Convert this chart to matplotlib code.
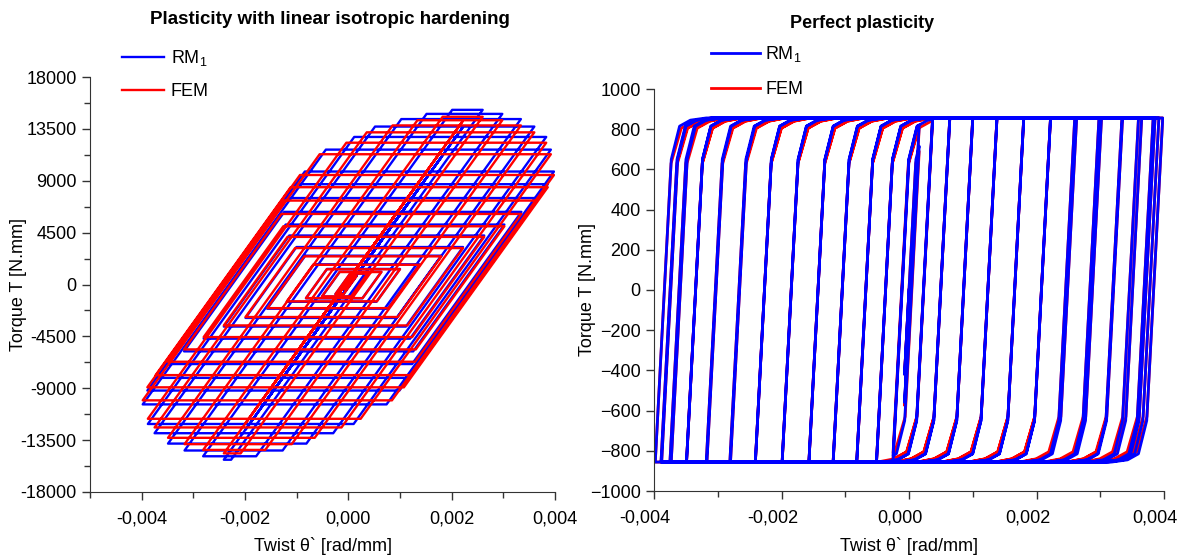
import numpy as np
import matplotlib
matplotlib.use('Agg')
import matplotlib.pyplot as plt
import matplotlib.transforms as mtransforms
from matplotlib.ticker import MultipleLocator, FuncFormatter

plt.rcParams['font.family'] = ['Liberation Sans', 'DejaVu Sans']
plt.rcParams['mathtext.fontset'] = 'custom'
plt.rcParams['mathtext.rm'] = 'Liberation Sans'
plt.rcParams['mathtext.it'] = 'Liberation Sans:italic'

# twist reversal points [1e-3 rad/mm], same cyclic history for both materials
twist_peaks = [-0.07, 0.16, -0.25, 0.37, -0.51, 0.64, -0.82, 1.00, -1.19, 1.38,
               -1.57, 1.80, -1.99, 2.22, -2.41, 2.63, -2.80, 3.02, -3.18, 3.35,
               -3.49, 3.65, -3.73, 3.86, -3.89, 3.98, -3.98,
               3.92, -3.88, 3.83, -3.75, 3.60, -3.49, 3.34, -3.17, 2.98,
               -2.81, 2.60, -2.41, 2.22, -1.99, 1.80, -1.57, 1.38, -1.19,
               1.00, -0.82, 0.64, -0.51, 0.37, -0.25, 0.16, -0.07, 0.00]

# torque at each reversal [N.mm], linear isotropic hardening
torque_hard_rm = [-436, 740, -840, 950, -1050, 1100, -1200, 1350, -1500, 1750,
                  -2100, 2500, -2900, 3250, -3650, 4250, -4700, 5200, -5800, 6300,
                  -6900, 7500, -8100, 8700, -9200, 9800, -10400,
                  11700, -12100, 12800, -12900, 13700, -13800, 14350, -14400, 14800,
                  -14900, 15150, -15200, 13660, -12580, 11050, -9970, 8430, -7600,
                  6060, -5290, 3810, -3360, 2130, -1740, 820, -610, -180]
torque_hard_fem = [-436, 730, -830, 940, -1030, 1080, -1180, 1320, -1460, 1710,
                   -2050, 2440, -2820, 3160, -3550, 4130, -4560, 5050, -5630, 6120,
                   -6700, 7280, -7860, 8440, -8920, 9500, -10050,
                   11300, -11650, 12300, -12400, 13200, -13300, 13800, -13850, 14250,
                   -14350, 14550, -14650, 14210, -12030, 11600, -9420, 8980, -7050,
                   6610, -4740, 4360, -2810, 2680, -1190, 1370, -60, 370]
k_hard = 6234.0   # elastic torsional stiffness, N.mm per 1e-3 rad/mm

# perfect plasticity: gradual yielding after the elastic limit
k_perf = 6000.0
knee_dx_rm = [0.0, 0.13, 0.30, 0.55]
knee_t_rm = [650, 815, 845, 856]
knee_dx_fem = [0.0, 0.16, 0.36, 0.62]
knee_t_fem = [630, 805, 840, 856]


def hardening_path(x_rev, t_rev, k):
    xs, ts = [0.0], [0.0]
    for x1, t1 in zip(x_rev, t_rev):
        x0, t0 = xs[-1], ts[-1]
        xc = x0 + (t1 - t0) / k
        if (xc - x0) * (x1 - xc) > 0:
            xs.append(xc)
            ts.append(t1)
        xs.append(x1)
        ts.append(t1)
    return np.array(xs) * 1e-3, np.array(ts)


def perfect_path(x_rev, knee_dx, knee_t, k):
    xs, ts = [0.0], [0.0]
    for x1 in x_rev:
        x0, t0 = xs[-1], ts[-1]
        s = np.sign(x1 - x0)
        xe = x0 + (s * knee_t[0] - t0) / k
        bx = [x0] + [xe + s * d for d in knee_dx] + [x1 + s * 2.0]
        bt = [t0] + [s * t for t in knee_t] + [s * knee_t[-1]]
        u = s * np.array(bx)
        for xb, tb, ub in zip(bx[1:], bt[1:], u[1:]):
            if ub < s * x1:
                xs.append(xb)
                ts.append(tb)
        xs.append(x1)
        ts.append(np.interp(s * x1, u, bt))
    return np.array(xs) * 1e-3, np.array(ts)


def comma_fmt(v, pos):
    if abs(v) < 1e-9:
        v = 0.0
    return f"{v:.3f}".replace('.', ',')


fig = plt.figure(figsize=(11.84, 5.6), dpi=100)
ax1 = fig.add_axes([90 / 1184, 68 / 560, 465 / 1184, 415 / 560])
ax2 = fig.add_axes([654 / 1184, 69 / 560, 510 / 1184, 402 / 560])

# --- linear isotropic hardening ---
x, t = hardening_path(twist_peaks, torque_hard_rm, k_hard)
l_rm, = ax1.plot(x, t, color='#0000ff', lw=1.7)
x, t = hardening_path(twist_peaks, torque_hard_fem, k_hard)
l_fem, = ax1.plot(x, t, color='#ff0000', lw=1.7)

ax1.set_xlim(-0.005, 0.004)
ax1.set_ylim(-18000, 18000)
ax1.xaxis.set_major_locator(MultipleLocator(0.002))
ax1.xaxis.set_minor_locator(MultipleLocator(0.001))
ax1.yaxis.set_major_locator(MultipleLocator(4500))
ax1.yaxis.set_minor_locator(MultipleLocator(2250))
ax1.xaxis.set_major_formatter(FuncFormatter(comma_fmt))
ax1.yaxis.set_major_formatter(FuncFormatter(lambda v, p: f"{v:.0f}"))
ax1.set_xlabel('Twist θ` [rad/mm]', fontsize=13)
ax1.set_ylabel('Torque T [N.mm]', fontsize=13)
ax1.xaxis.set_label_coords(0.5, -(537 - 492) / 415)
ax1.yaxis.set_label_coords((27 - 90) / 465, 0.5)
ax1.legend(handles=[l_rm, l_fem], labels=['RM$_1$', 'FEM'], loc='upper left',
           bbox_to_anchor=(122 / 1184, 1 - 48 / 560), bbox_transform=fig.transFigure,
           frameon=False, fontsize=13, handlelength=2.3, handletextpad=0.4,
           labelspacing=0.85, borderpad=0, borderaxespad=0)

# --- perfect plasticity ---
x, t = perfect_path(twist_peaks, knee_dx_fem, knee_t_fem, k_perf)
p_fem, = ax2.plot(x, t, color='#ff0000', lw=2.0)
x, t = perfect_path(twist_peaks, knee_dx_rm, knee_t_rm, k_perf)
p_rm, = ax2.plot(x, t, color='#0000ff', lw=2.0)

ax2.set_xlim(-0.004, 0.004)
ax2.set_ylim(-1000, 1000)
ax2.xaxis.set_major_locator(MultipleLocator(0.002))
ax2.xaxis.set_minor_locator(MultipleLocator(0.001))
ax2.yaxis.set_major_locator(MultipleLocator(200))
ax2.xaxis.set_major_formatter(FuncFormatter(comma_fmt))
ax2.yaxis.set_major_formatter(FuncFormatter(lambda v, p: f"{v:.0f}".replace('-', '\u2212')))
ax2.set_xlabel('Twist θ` [rad/mm]', fontsize=13)
ax2.set_ylabel('Torque T [N.mm]', fontsize=13)
ax2.xaxis.set_label_coords(0.5, -(537 - 491) / 402)
ax2.yaxis.set_label_coords((596 - 654) / 510, 0.5)
ax2.legend(handles=[p_rm, p_fem], labels=['RM$_1$', 'FEM'], loc='upper left',
           bbox_to_anchor=(711 / 1184, 1 - 44 / 560), bbox_transform=fig.transFigure,
           frameon=False, fontsize=13, handlelength=2.7, handletextpad=0.3,
           labelspacing=0.95, borderpad=0, borderaxespad=0)

for ax in (ax1, ax2):
    ax.spines['top'].set_visible(False)
    ax.spines['right'].set_visible(False)
    for side in ('left', 'bottom'):
        ax.spines[side].set_color('#333333')
    ax.tick_params(which='major', direction='out', length=6, width=1,
                   labelsize=13, color='#333333')
    ax.tick_params(axis='x', which='major', pad=7)
    ax.tick_params(which='minor', direction='out', length=4, width=1, color='#333333')

# right-panel twist labels sit a little left of their ticks
shift = mtransforms.ScaledTranslation(-9 / 100, 0, fig.dpi_scale_trans)
for lbl in ax2.get_xticklabels():
    lbl.set_transform(lbl.get_transform() + shift)

fig.text(330 / 1184, 1 - 20 / 560, 'Plasticity with linear isotropic hardening',
         ha='center', va='center', fontsize=13.5, fontweight='bold')
fig.text(862 / 1184, 1 - 23 / 560, 'Perfect plasticity',
         ha='center', va='center', fontsize=13, fontweight='bold')

fig.savefig('out.png', dpi=100)
